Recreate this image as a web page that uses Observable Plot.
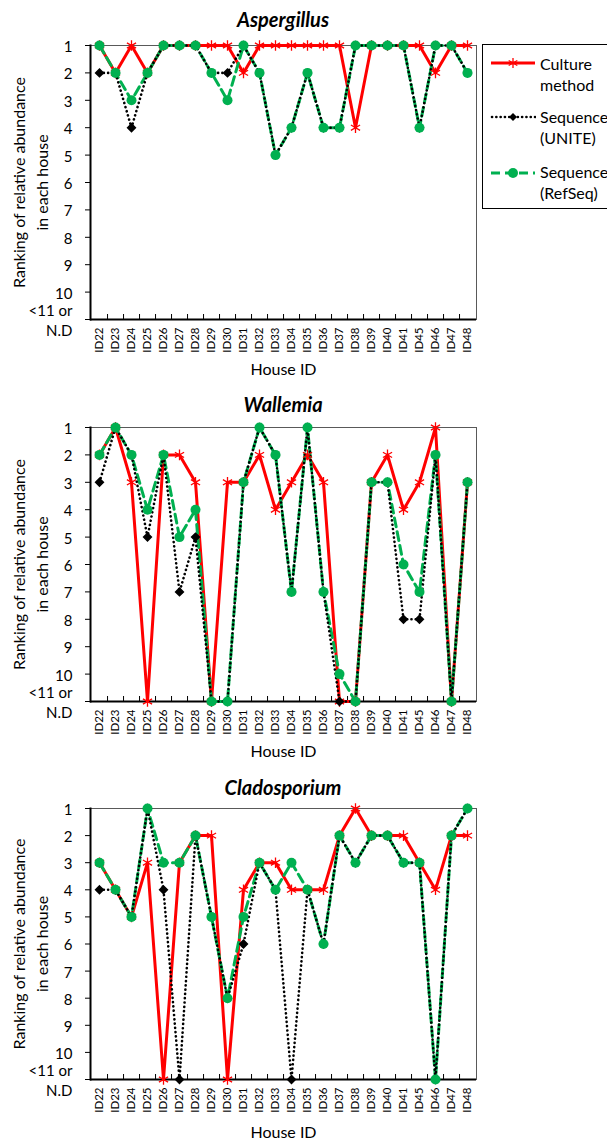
<!DOCTYPE html>
<html>
<head>
<meta charset="utf-8">
<script src="https://cdn.jsdelivr.net/npm/d3@7"></script>
<script src="https://cdn.jsdelivr.net/npm/@observablehq/plot@0.6"></script>
<style>
  body { margin: 0; overflow: hidden; background: #fff; font-family: Lato, "Open Sans", sans-serif; }
  #wrap { position: relative; width: 607px; height: 1140px; overflow: hidden; background: #fff; }
  .panel { position: absolute; left: 0; }
  .title { position: absolute; left: 90px; width: 386px; text-align: center; font-weight: bold; font-style: italic; font-size: 20px; line-height: 24px; color: #000; }
  #legend { position: absolute; left: 482px; top: 44px; width: 140px; height: 163px; border: 1px solid #000; background: #fff; }
  .sw { position: absolute; left: 7px; }
  .lt { position: absolute; left: 57px; font-size: 16px; line-height: 21px; color: #000; }
</style>
</head>
<body>
<div id="wrap"></div>
<script>
// ---------- data ----------
const ids = ["ID22","ID23","ID24","ID25","ID26","ID27","ID28","ID29","ID30","ID31","ID32","ID33","ID34","ID35","ID36","ID37","ID38","ID39","ID40","ID41","ID45","ID46","ID47","ID48"];
const yTicks = [1,2,3,4,5,6,7,8,9,10,11];
const yTickLabels = ["1","2","3","4","5","6","7","8","9","10","<11 or\nN.D"];
const seriesNames = ["Culture\nmethod", "Sequence\n(UNITE)", "Sequence\n(RefSeq)"];
const titles = ["Aspergillus", "Wallemia", "Cladosporium"];

const aspCulture = [1,2,1,2,1,1,1,1,1,2,1,1,1,1,1,1,4,1,1,1,1,2,1,1];
const aspUnite   = [2,2,4,2,1,1,1,2,2,1,2,5,4,2,4,4,1,1,1,1,4,1,1,2];
const aspRefseq  = [1,2,3,2,1,1,1,2,3,1,2,5,4,2,4,4,1,1,1,1,4,1,1,2];

const walCulture = [2,1,3,11,2,2,3,11,3,3,2,4,3,2,3,11,11,3,2,4,3,1,11,3];
const walUnite   = [3,1,2,5,2,7,5,11,11,3,1,2,7,1,7,11,11,3,3,8,8,2,11,3];
const walRefseq  = [2,1,2,4,2,5,4,11,11,3,1,2,7,1,7,10,11,3,3,6,7,2,11,3];

const claCulture = [3,4,5,3,11,3,2,2,11,4,3,3,4,4,4,2,1,2,2,2,3,4,2,2];
const claUnite   = [4,4,5,1,4,11,2,5,8,6,3,4,11,4,6,2,3,2,2,3,3,11,2,1];
const claRefseq  = [3,4,5,1,3,3,2,5,8,5,3,4,3,4,6,2,3,2,2,3,3,11,2,1];

// ---------- styles ----------
const RED = "#FF0000", GREEN = "#00B050", BLACK = "#000000";
const FONT = "Lato, 'Open Sans', sans-serif";
const panelsCfg = [
  {title: titles[0], culture: aspCulture, unite: aspUnite, refseq: aspRefseq, top: 0, marginBottom: 63, titleTop: 7},
  {title: titles[1], culture: walCulture, unite: walUnite, refseq: walRefseq, top: 382, marginBottom: 63, titleTop: 10},
  {title: titles[2], culture: claCulture, unite: claUnite, refseq: claRefseq, top: 763, marginBottom: 66, titleTop: 12}
];

const W = 607, H = 382, ML = 90, MR = 131, MT = 45;
const step = (W - ML - MR) / ids.length;
const wrap = document.getElementById("wrap");

function rows(arr) { return ids.map((id, i) => ({id, rank: arr[i]})); }

for (const p of panelsCfg) {
  const innerH = H - MT - p.marginBottom;
  const cul = rows(p.culture), uni = rows(p.unite), ref = rows(p.refseq);
  const chart = Plot.plot({
    width: W, height: H,
    marginLeft: ML, marginRight: MR, marginTop: MT, marginBottom: p.marginBottom,
    style: {fontFamily: FONT, fontSize: "14px", color: "#000", background: "transparent", overflow: "visible"},
    x: {type: "point", domain: ids, padding: 0.5},
    y: {domain: [1, 11], reverse: true},
    marks: [
      Plot.frame({stroke: "#595959", strokeWidth: 1}),
      Plot.ruleY([11], {stroke: BLACK, strokeWidth: 2}),
      Plot.frame({anchor: "left", stroke: BLACK, strokeWidth: 2}),
      Plot.ruleX(ids.slice(0, -1), {dx: step / 2, insetTop: innerH - 5, stroke: BLACK, strokeWidth: 1}),
      Plot.axisY({ticks: yTicks, tickFormat: (d) => yTickLabels[yTicks.indexOf(d)], tickSize: 5, tickPadding: 13, fontSize: 15, lineHeight: 1.35, label: null}),
      Plot.axisX({tickRotate: -90, tickSize: 0, tickPadding: 8, fontSize: 11.5, label: null}),
      Plot.line(cul, {x: "id", y: "rank", stroke: RED, strokeWidth: 3}),
      Plot.line(ref, {x: "id", y: "rank", stroke: GREEN, strokeWidth: 3, strokeDasharray: "9,5"}),
      Plot.line(uni, {x: "id", y: "rank", stroke: BLACK, strokeWidth: 2.6, strokeDasharray: "0.1,4.2", strokeLinecap: "round"}),
      Plot.dot(cul, {x: "id", y: "rank", symbol: "asterisk", r: 5, stroke: RED, strokeWidth: 1.3}),
      Plot.dot(uni, {x: "id", y: "rank", symbol: "diamond2", r: 3.5, fill: BLACK, stroke: BLACK}),
      Plot.dot(ref, {x: "id", y: "rank", symbol: "circle", r: 5, fill: GREEN}),
      Plot.text(["House ID"], {frameAnchor: "bottom", dy: p.marginBottom === 63 ? 55 : 58, fontSize: 16}),
      Plot.text(["Ranking of relative abundance\nin each house"], {frameAnchor: "left", textAnchor: "middle", rotate: -90, dx: -61, fontSize: 16, lineHeight: 1.4})
    ]
  });
  const div = document.createElement("div");
  div.className = "panel";
  div.style.top = p.top + "px";
  div.appendChild(chart);
  wrap.appendChild(div);

  const t = document.createElement("div");
  t.className = "title";
  t.style.top = (p.top + p.titleTop) + "px";
  t.textContent = p.title;
  wrap.appendChild(t);
}

// ---------- legend ----------
const legend = document.createElement("div");
legend.id = "legend";
const swY = [18, 72, 128];
const txY = [8, 61, 116];
const swatches = [
  `<svg class="sw" width="46" height="20" style="top:${swY[0]-10}px"><line x1="1" x2="45" y1="10" y2="10" stroke="${RED}" stroke-width="3"/><g stroke="${RED}" stroke-width="1.3"><line x1="23" x2="23" y1="5" y2="15"/><line x1="18.7" x2="27.3" y1="7.5" y2="12.5"/><line x1="18.7" x2="27.3" y1="12.5" y2="7.5"/></g></svg>`,
  `<svg class="sw" width="46" height="20" style="top:${swY[1]-10}px"><line x1="2" x2="45" y1="10" y2="10" stroke="${BLACK}" stroke-width="2.6" stroke-dasharray="0.1,4.2" stroke-linecap="round"/><path d="M23,6L27,10L23,14L19,10Z" fill="${BLACK}"/></svg>`,
  `<svg class="sw" width="46" height="20" style="top:${swY[2]-10}px"><line x1="1" x2="45" y1="10" y2="10" stroke="${GREEN}" stroke-width="3" stroke-dasharray="9,5"/><circle cx="23" cy="10" r="5" fill="${GREEN}"/></svg>`
];
seriesNames.forEach((name, i) => {
  legend.insertAdjacentHTML("beforeend", swatches[i]);
  const tx = document.createElement("div");
  tx.className = "lt";
  tx.style.top = txY[i] + "px";
  tx.innerHTML = name.split("\n").join("<br>");
  legend.appendChild(tx);
});
wrap.appendChild(legend);
</script>
</body>
</html>
